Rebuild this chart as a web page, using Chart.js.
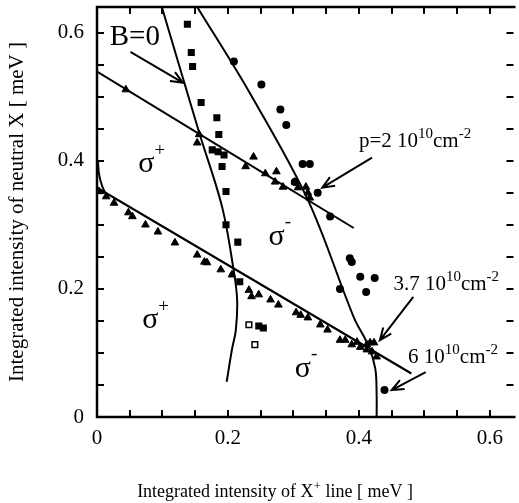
<!DOCTYPE html>
<html>
<head>
<meta charset="utf-8">
<script src="https://cdn.jsdelivr.net/npm/chart.js@4.4.0/dist/chart.umd.min.js"></script>
<style>
  html, body { margin: 0; padding: 0; background: #fff; }
  #wrap { width: 519px; height: 503px; }
</style>
</head>
<body>
<div id="wrap"><canvas id="c"></canvas></div>
<script>
/* ============================================================
   DATA
   ============================================================ */
const X_MAX = 0.636, Y_MAX = 0.64;

// triangles, p = 2 10^10 cm^-2
const triP2X = [0.044, 0.156, 0.153, 0.239, 0.227, 0.257, 0.274, 0.272, 0.284, 0.302, 0.307, 0.319, 0.322, 0.325];
const triP2Y = [0.511, 0.441, 0.428, 0.406, 0.391, 0.380, 0.383, 0.367, 0.359, 0.367, 0.358, 0.359, 0.350, 0.342];

// triangles, p = 3.7 10^10 cm^-2
const triP37X = [0.003, 0.014, 0.026, 0.048, 0.054, 0.074, 0.093, 0.119, 0.153, 0.164, 0.168, 0.189, 0.206,
                 0.232, 0.236, 0.247, 0.265, 0.277, 0.304, 0.311, 0.322, 0.341, 0.352, 0.371, 0.379, 0.389,
                 0.397, 0.402, 0.412, 0.417, 0.423, 0.412, 0.420, 0.427];
const triP37Y = [0.352, 0.344, 0.334, 0.319, 0.313, 0.300, 0.289, 0.272, 0.253, 0.242, 0.241, 0.230, 0.222,
                 0.198, 0.188, 0.191, 0.183, 0.175, 0.163, 0.159, 0.155, 0.144, 0.136, 0.120, 0.120, 0.113,
                 0.117, 0.109, 0.113, 0.116, 0.116, 0.105, 0.102, 0.094];

// squares (filled / open)
const sqX = [0.138, 0.144, 0.146, 0.159, 0.183, 0.186, 0.176, 0.185, 0.194, 0.191, 0.197, 0.197, 0.215, 0.218, 0.247, 0.254];
const sqY = [0.613, 0.569, 0.547, 0.491, 0.467, 0.441, 0.417, 0.414, 0.409, 0.391, 0.352, 0.300, 0.273, 0.211, 0.142, 0.139];
const sqOpenX = [0.232, 0.241];
const sqOpenY = [0.144, 0.113];

// circles
const dotX = [0.209, 0.251, 0.280, 0.289, 0.314, 0.325, 0.302, 0.337, 0.356, 0.386, 0.389, 0.402, 0.424, 0.371, 0.411, 0.439];
const dotY = [0.555, 0.519, 0.480, 0.456, 0.395, 0.395, 0.367, 0.350, 0.313, 0.248, 0.242, 0.219, 0.217, 0.200, 0.195, 0.042];

// straight fits
const fitP2X = [0, 0.392], fitP2Y = [0.539, 0.295];
const fitP37X = [0, 0.48], fitP37Y = [0.358, 0.068];

// curves
const curveLX = [0.099, 0.156, 0.191, 0.209, 0.214, 0.212, 0.206, 0.198];
const curveLY = [0.640, 0.444, 0.328, 0.227, 0.183, 0.136, 0.105, 0.055];
const curveRX = [0.153, 0.232, 0.322, 0.392, 0.415, 0.425, 0.427, 0.427];
const curveRY = [0.640, 0.508, 0.339, 0.156, 0.110, 0.075, 0.035, 0.0];
const curveEX = [0.0015, 0.003, 0.008, 0.016];
const curveEY = [0.400, 0.380, 0.360, 0.343];

const pts = (xs, ys) => xs.map((x, i) => ({ x, y: ys[i] }));

/* ============================================================
   ANNOTATIONS
   ============================================================ */
const SERIF = "'Liberation Serif', 'Times New Roman', serif";
const notes = [
  { x: 0.0195, y: 0.580, parts: [["B=0", 29, 0]] },
  { x: 0.400,  y: 0.422, parts: [["p=2 10", 21, 0], ["10", 15, 9], ["cm", 21, 0], ["-2", 15, 9]] },
  { x: 0.4526, y: 0.198, parts: [["3.7 10", 21, 0], ["10", 15, 9], ["cm", 21, 0], ["-2", 15, 9]] },
  { x: 0.475,  y: 0.084, parts: [["6 10", 21, 0], ["10", 15, 9], ["cm", 21, 0], ["-2", 15, 9]] },
  { x: 0.063,  y: 0.383, parts: [["σ", 30, 0], ["+", 19, 16]] },
  { x: 0.069,  y: 0.139, parts: [["σ", 30, 0], ["+", 19, 16]] },
  { x: 0.262,  y: 0.269, parts: [["σ", 30, 0], ["-", 19, 18]] },
  { x: 0.302,  y: 0.0625, parts: [["σ", 30, 0], ["-", 19, 18]] },
];
const arrows = [
  [0.051, 0.570, 0.131, 0.522],
  [0.420, 0.405, 0.344, 0.358],
  [0.483, 0.1875, 0.432, 0.120],
  [0.502, 0.070, 0.450, 0.042],
];

function drawParts(ctx, x, y, parts) {
  ctx.textBaseline = "alphabetic";
  ctx.textAlign = "left";
  for (const [t, size, rise] of parts) {
    ctx.font = `${size}px ${SERIF}`;
    ctx.fillText(t, x, y - rise);
    x += ctx.measureText(t).width;
  }
}

function partsWidth(ctx, parts) {
  let w = 0;
  for (const [t, size] of parts) { ctx.font = `${size}px ${SERIF}`; w += ctx.measureText(t).width; }
  return w;
}

function drawArrow(ctx, x0, y0, x1, y1) {
  const a = Math.atan2(y1 - y0, x1 - x0), L = 13, w = 0.4;
  ctx.beginPath();
  ctx.moveTo(x0, y0); ctx.lineTo(x1, y1);
  ctx.moveTo(x1 - L * Math.cos(a - w), y1 - L * Math.sin(a - w));
  ctx.lineTo(x1, y1);
  ctx.lineTo(x1 - L * Math.cos(a + w), y1 - L * Math.sin(a + w));
  ctx.stroke();
}

const framePlugin = {
  id: "frame",
  afterDraw(chart) {
    const { ctx, chartArea: a, scales: { x: xs, y: ys } } = chart;
    ctx.save();
    ctx.strokeStyle = "#000";
    ctx.fillStyle = "#000";
    ctx.lineCap = "butt";

    // frame (right edge falls outside the picture)
    ctx.lineWidth = 2.5;
    ctx.beginPath();
    ctx.moveTo(a.right + 2, a.top); ctx.lineTo(a.left, a.top);
    ctx.lineTo(a.left, a.bottom); ctx.lineTo(a.right + 2, a.bottom);
    ctx.stroke();

    // inward ticks on all sides
    const TL = 7;
    ctx.lineWidth = 2;
    ctx.beginPath();
    xs.ticks.forEach(t => {
      const px = Math.round(xs.getPixelForValue(t.value));
      if (px <= a.left + 1) return;
      ctx.moveTo(px, a.bottom); ctx.lineTo(px, a.bottom - TL);
      ctx.moveTo(px, a.top); ctx.lineTo(px, a.top + TL);
    });
    ys.ticks.forEach(t => {
      const py = Math.round(ys.getPixelForValue(t.value));
      if (py >= a.bottom - 1) return;
      ctx.moveTo(a.left, py); ctx.lineTo(a.left + TL, py);
      ctx.moveTo(a.right, py); ctx.lineTo(a.right - TL, py);
    });
    ctx.stroke();

    // arrows
    ctx.lineWidth = 2;
    arrows.forEach(([x0, y0, x1, y1]) =>
      drawArrow(ctx, xs.getPixelForValue(x0), ys.getPixelForValue(y0),
                     xs.getPixelForValue(x1), ys.getPixelForValue(y1)));

    // labels
    notes.forEach(n => drawParts(ctx, xs.getPixelForValue(n.x), ys.getPixelForValue(n.y), n.parts));

    // x axis title with superscript
    const title = [["Integrated intensity of X", 18, 0], ["+", 13, 7], [" line [ meV ]", 18, 0]];
    const w = partsWidth(ctx, title);
    drawParts(ctx, 275 - w / 2, 497, title);
    ctx.restore();
  }
};

/* ============================================================
   CHART
   ============================================================ */
const tickLabel = v => {
  if (Math.abs(v) < 1e-9) return "0";
  return Math.abs(v * 5 - Math.round(v * 5)) < 1e-6 ? v.toFixed(1) : "";
};

const lineDs = (data, width) => ({
  data, showLine: true, pointRadius: 0, borderColor: "#000", borderWidth: width,
  backgroundColor: "transparent", tension: 0.35, fill: false,
});

new Chart(document.getElementById("c"), {
  type: "scatter",
  data: {
    datasets: [
      { data: pts(dotX, dotY), pointStyle: "circle", pointRadius: 4, backgroundColor: "#000", borderColor: "#000", borderWidth: 0 },
      { data: pts(triP2X, triP2Y), pointStyle: "triangle", pointRadius: 4.4, backgroundColor: "#000", borderColor: "#000", borderWidth: 1 },
      { data: pts(triP37X, triP37Y), pointStyle: "triangle", pointRadius: 4.4, backgroundColor: "#000", borderColor: "#000", borderWidth: 1 },
      { data: pts(sqX, sqY), pointStyle: "rect", pointRadius: 5, backgroundColor: "#000", borderColor: "#000", borderWidth: 0 },
      { data: pts(sqOpenX, sqOpenY), pointStyle: "rect", pointRadius: 4, backgroundColor: "#fff", borderColor: "#000", borderWidth: 1.5 },
      lineDs(pts(fitP2X, fitP2Y), 2),
      lineDs(pts(fitP37X, fitP37Y), 2.2),
      lineDs(pts(curveLX, curveLY), 2),
      lineDs(pts(curveRX, curveRY), 2),
      lineDs(pts(curveEX, curveEY), 2),
    ],
  },
  options: {
    responsive: true,
    maintainAspectRatio: false,
    animation: false,
    devicePixelRatio: 1,
    layout: { padding: { top: 7, right: 0, left: 0, bottom: 0 } },
    plugins: { legend: { display: false }, tooltip: { enabled: false } },
    scales: {
      x: {
        type: "linear", min: 0, max: X_MAX, bounds: "data",
        grid: { display: false, drawTicks: false },
        border: { display: false },
        ticks: { stepSize: 0.05, includeBounds: false, autoSkip: false, maxRotation: 0,
                 padding: 9, color: "#000", font: { family: SERIF, size: 21 }, callback: tickLabel },
        afterFit: s => { s.height = 86; s.paddingLeft = 0; s.paddingRight = 0; },
      },
      y: {
        type: "linear", min: 0, max: Y_MAX, bounds: "data",
        grid: { display: false, drawTicks: false },
        border: { display: false },
        ticks: { stepSize: 0.05, includeBounds: false, autoSkip: false,
                 padding: 13, color: "#000", font: { family: SERIF, size: 21 }, callback: tickLabel },
        title: { display: true, text: "Integrated intensity of neutral X [ meV ]", color: "#000",
                 font: { family: SERIF, size: 21 }, padding: { top: 5, bottom: 0 } },
        afterFit: s => { s.width = 97; s.paddingTop = 0; s.paddingBottom = 0; },
      },
    },
  },
  plugins: [framePlugin],
});
</script>
</body>
</html>
